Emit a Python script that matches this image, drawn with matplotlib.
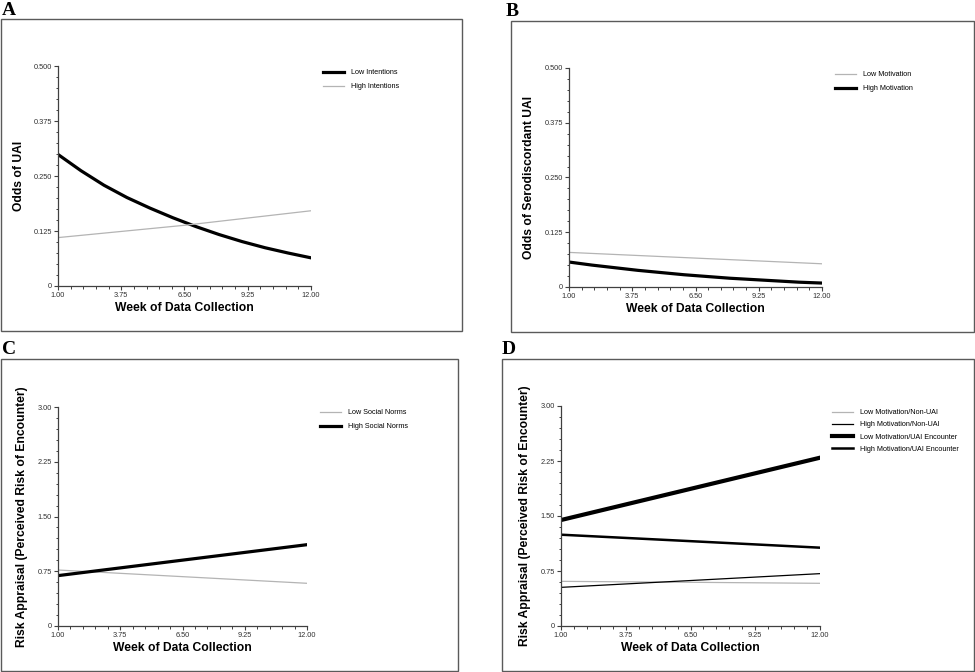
import matplotlib

matplotlib.use("Agg")
import matplotlib.pyplot as plt
from matplotlib.patches import Rectangle
from matplotlib.ticker import AutoMinorLocator, FixedLocator

# values
weeks = [1, 2, 3, 4, 5, 6, 7, 8, 9, 10, 11, 12]
weeks_ends = [1, 6.5, 12]

low_intentions = [0.299, 0.262, 0.229, 0.201, 0.177, 0.155, 0.135, 0.117, 0.101, 0.087, 0.075, 0.064]
high_intentions = [0.110, 0.138, 0.171]

low_motivation_b = [0.079, 0.066, 0.053]
high_motivation_b = [0.057, 0.050, 0.044, 0.038, 0.033, 0.028, 0.024, 0.020, 0.017, 0.014, 0.011, 0.009]

low_norms = [0.767, 0.676, 0.585]
high_norms = [0.690, 0.902, 1.114]

low_mot_non_uai = [0.609, 0.596, 0.582]
high_mot_non_uai = [0.527, 0.620, 0.714]
low_mot_uai = [1.445, 1.870, 2.295]
high_mot_uai = [1.245, 1.157, 1.068]

x_ticks = [1.00, 3.75, 6.50, 9.25, 12.00]
odds_ticks = [0, 0.125, 0.250, 0.375, 0.500]
risk_ticks = [0, 0.75, 1.50, 2.25, 3.00]
odds_labels = ["0", "0.125", "0.250", "0.375", "0.500"]
risk_labels = ["0", "0.75", "1.50", "2.25", "3.00"]

W, H = 975, 672
GRAY = "#b4b4b4"
SANS = ["Liberation Sans", "DejaVu Sans"]

fig = plt.figure(figsize=(W / 100, H / 100), dpi=100)


def fig_box(x0, y0, x1, y1):
    return [x0 / W, 1 - y1 / H, (x1 - x0) / W, (y1 - y0) / H]


def frame(x0, y0, x1, y1):
    fig.add_artist(Rectangle((x0 / W, 1 - y1 / H), (x1 - x0) / W, (y1 - y0) / H,
                             transform=fig.transFigure, fill=False,
                             edgecolor="#5a5a5a", linewidth=1.0))


def letter(x, y, s):
    fig.text(x / W, 1 - y / H, s, family=["Liberation Serif", "DejaVu Serif"],
             fontsize=14, fontweight="bold", ha="left", va="top")


def setup(ax, yticks, ylabels, ylabel, ylab_x):
    ax.set_xlim(1, 12)
    ax.set_ylim(yticks[0], yticks[-1])
    for side in ("top", "right"):
        ax.spines[side].set_visible(False)
    for side in ("left", "bottom"):
        ax.spines[side].set_color("#404040")
        ax.spines[side].set_linewidth(0.9)
    ax.xaxis.set_major_locator(FixedLocator(x_ticks))
    ax.set_xticklabels([f"{t:.2f}" for t in x_ticks])
    ax.yaxis.set_major_locator(FixedLocator(yticks))
    ax.set_yticklabels(ylabels)
    ax.xaxis.set_minor_locator(AutoMinorLocator(5))
    ax.yaxis.set_minor_locator(AutoMinorLocator(5))
    ax.tick_params(which="major", length=3, width=0.8, color="#404040",
                   labelsize=5.3, labelcolor="#303030", pad=1.5)
    ax.tick_params(which="minor", length=1.8, width=0.7, color="#404040")
    for lab in ax.get_xticklabels() + ax.get_yticklabels():
        lab.set_family(SANS)
    ax.set_xlabel("Week of Data Collection", family=SANS, fontsize=8.7,
                  fontweight="bold")
    ax.set_ylabel(ylabel, family=SANS, fontsize=8.7, fontweight="bold")
    h = ax.get_position().height * H
    ax.xaxis.set_label_coords(0.5, -22 / h)
    ax.xaxis.label.set_va("center")
    ax.yaxis.set_label_coords(ylab_x, 0.5)
    ax.yaxis.label.set_va("center")


def legend(ax, x, y, spacing):
    ax.legend(loc="upper left", bbox_to_anchor=(x / W, 1 - y / H),
              bbox_transform=fig.transFigure, frameon=False,
              prop={"family": SANS, "size": 5.2}, handlelength=2.9,
              handletextpad=1.0, labelspacing=spacing, borderpad=0,
              borderaxespad=0)


# panel A
frame(1, 19, 462, 331)
letter(2, 2, "A")
ax = fig.add_axes(fig_box(58, 66, 311, 286))
ax.plot(weeks, low_intentions, color="black", lw=2.3, label="Low Intentions")
ax.plot(weeks_ends, high_intentions, color=GRAY, lw=0.9, label="High Intentions")
setup(ax, odds_ticks, odds_labels, "Odds of UAI", -0.155)
legend(ax, 323, 69, 1.0)

# panel B
frame(511, 21, 974, 332)
letter(506, 3, "B")
ax = fig.add_axes(fig_box(569, 68, 822, 287))
ax.plot(weeks_ends, low_motivation_b, color=GRAY, lw=0.9, label="Low Motivation")
ax.plot(weeks, high_motivation_b, color="black", lw=2.3, label="High Motivation")
setup(ax, odds_ticks, odds_labels, "Odds of Serodiscordant UAI", -0.158)
legend(ax, 835, 71, 1.0)

# panel C
frame(1, 359, 458, 671)
letter(2, 341, "C")
ax = fig.add_axes(fig_box(58, 407, 307, 626))
ax.plot(weeks_ends, low_norms, color=GRAY, lw=0.9, label="Low Social Norms")
ax.plot(weeks_ends, high_norms, color="black", lw=2.3, label="High Social Norms")
setup(ax, risk_ticks, risk_labels, "Risk Appraisal (Perceived Risk of Encounter)", -0.145)
legend(ax, 320, 409, 1.0)

# panel D
frame(502, 359, 974, 671)
letter(502, 341, "D")
ax = fig.add_axes(fig_box(561, 406, 820, 626))
ax.plot(weeks_ends, low_mot_non_uai, color=GRAY, lw=0.9, label="Low Motivation/Non-UAI")
ax.plot(weeks_ends, high_mot_non_uai, color="black", lw=0.9, label="High Motivation/Non-UAI")
ax.plot(weeks_ends, low_mot_uai, color="black", lw=3.0, label="Low Motivation/UAI Encounter")
ax.plot(weeks_ends, high_mot_uai, color="black", lw=1.8, label="High Motivation/UAI Encounter")
setup(ax, risk_ticks, risk_labels, "Risk Appraisal (Perceived Risk of Encounter)", -0.139)
legend(ax, 832, 409, 0.72)

fig.savefig("out.png", dpi=100)
